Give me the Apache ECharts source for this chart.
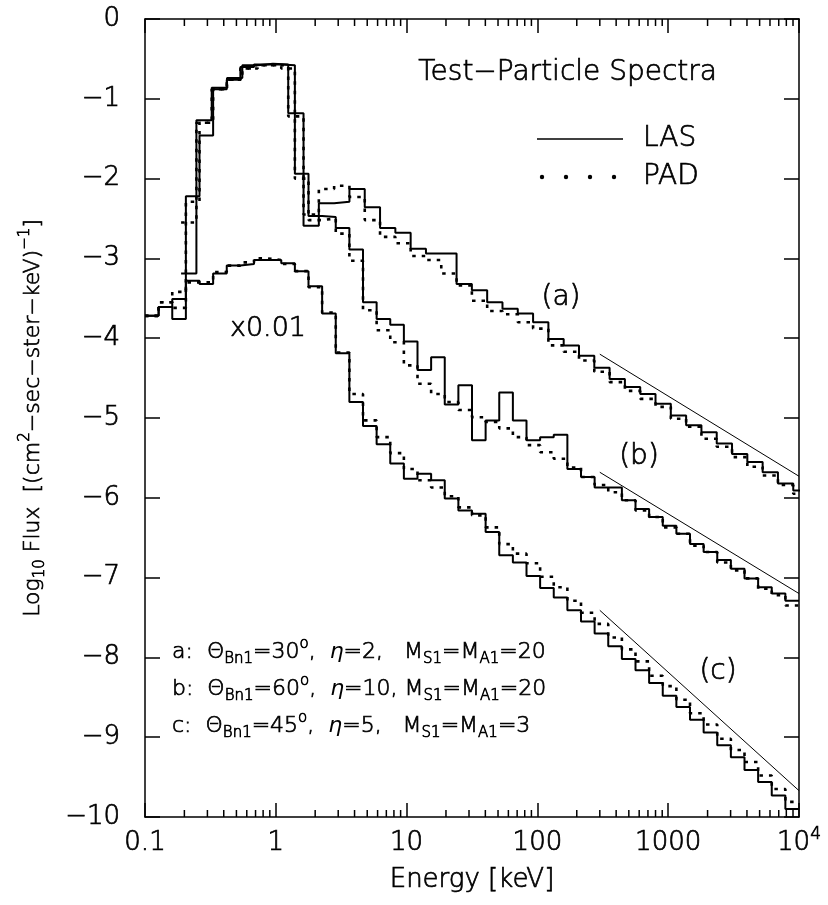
<!DOCTYPE html>
<html>
<head>
<meta charset="utf-8">
<script src="https://cdn.jsdelivr.net/npm/echarts@6/dist/echarts.min.js"></script>
<style>
html,body{margin:0;padding:0;background:#ffffff;}
#chart{width:828px;height:905px;}
</style>
</head>
<body>
<div id="chart"></div>
<script>
// ---------- histogram binning (log10 of energy in keV) ----------
const binStartBC = -1;        // (b) and (c): 48 bins over 0.1 .. 1e4 keV
const binWidthBC = 5 / 48;
const binStartA = -1.075;     // (a): its own, slightly wider bins
const binWidthA = 0.117;

// ---------- series values: log10 flux per bin ----------
// (a) theta=30, eta=2, M=20  (first three bins empty)
const aLAS = [null, null, null, -3.19, -1.27, -0.86, -0.74, -0.58, -0.56, -0.57,
  -1.18, -2.59, -2.31, -2.29, -2.13, -2.36, -2.62, -2.68, -2.88, -2.94,
  -2.94, -3.32, -3.40, -3.55, -3.63, -3.69, -3.80, -4.01, -4.09, -4.22,
  -4.37, -4.51, -4.61, -4.70, -4.82, -4.97, -5.09, -5.18, -5.32, -5.45,
  -5.55, -5.68, -5.82, -5.91];
const aPAD = [null, null, null, -2.55, -1.30, -0.88, -0.76, -0.62, -0.58, -0.58,
  -1.22, -2.45, -2.13, -2.09, -2.23, -2.52, -2.73, -2.81, -2.97, -3.02,
  -3.19, -3.34, -3.53, -3.66, -3.70, -3.80, -3.88, -4.09, -4.17, -4.28,
  -4.42, -4.55, -4.66, -4.76, -4.86, -5.01, -5.11, -5.26, -5.36, -5.49,
  -5.61, -5.72, -5.84, -5.95];
// (b) theta=60, eta=10, M=20
const bLAS = [-3.72, -3.61, -3.76, -2.22, -1.46, -0.88, -0.76, -0.60, -0.57, -0.57,
  -0.58, -1.94, -2.47, -2.48, -2.62, -2.89, -3.55, -3.76, -3.83, -4.04,
  -4.40, -4.24, -4.83, -4.59, -5.28, -5.03, -4.68, -5.03, -5.28, -5.24,
  -5.21, -5.64, -5.74, -5.87, -5.87, -6.03, -6.14, -6.24, -6.35, -6.45,
  -6.58, -6.68, -6.78, -6.89, -7.01, -7.12, -7.20, -7.29];
const bPAD = [-3.72, -3.55, -3.62, -2.29, -1.30, -0.88, -0.76, -0.62, -0.58, -0.58,
  -0.62, -2.00, -2.52, -2.50, -2.69, -3.03, -3.65, -3.90, -4.05, -4.34,
  -4.57, -4.70, -4.80, -4.90, -4.99, -5.05, -5.13, -5.24, -5.34, -5.43,
  -5.51, -5.62, -5.74, -5.84, -5.93, -6.03, -6.16, -6.24, -6.37, -6.45,
  -6.60, -6.68, -6.81, -6.91, -7.01, -7.14, -7.22, -7.35];
// (c) theta=45, eta=5, M=3  (shown x0.01)
const cLAS = [-3.72, -3.61, -3.51, -3.28, -3.32, -3.19, -3.09, -3.07, -3.02, -3.02,
  -3.06, -3.16, -3.35, -3.69, -4.19, -4.80, -5.10, -5.33, -5.57, -5.76,
  -5.70, -5.78, -6.01, -6.16, -6.20, -6.43, -6.72, -6.81, -6.98, -7.13,
  -7.25, -7.41, -7.55, -7.70, -7.86, -8.02, -8.16, -8.32, -8.48, -8.62,
  -8.78, -8.94, -9.10, -9.25, -9.41, -9.56, -9.73, -9.90];
const cPAD = [-3.72, -3.55, -3.42, -3.30, -3.30, -3.17, -3.09, -3.05, -3.00, -3.02,
  -3.07, -3.16, -3.36, -3.68, -4.18, -4.70, -5.03, -5.24, -5.44, -5.64,
  -5.78, -5.87, -5.98, -6.12, -6.22, -6.37, -6.58, -6.70, -6.82, -6.99,
  -7.12, -7.29, -7.44, -7.58, -7.75, -7.90, -8.05, -8.23, -8.36, -8.53,
  -8.70, -8.84, -9.02, -9.16, -9.31, -9.48, -9.65, -9.81];

// power-law reference lines [energy keV, log10 flux]
const powerLawA = [[300, -4.20], [10000, -5.73]];
const powerLawB = [[300, -5.68], [10000, -7.20]];
const powerLawC = [[300, -7.41], [10000, -9.67]];

// ---------- axis tick labels ----------
const xTickLabels = ['{n|0.1}', '{n|1}', '{n|10}', '{n|100}', '{n|1000}', '{n|10}{sup|4}'];
const yTickLabels = ['0', '−1', '−2', '−3', '−4', '−5', '−6', '−7', '−8', '−9', '−10'];
const minorMultipliers = [2, 3, 4, 5, 6, 7, 8, 9];
const decades = [0.1, 1, 10, 100, 1000];

const FONT = "'DejaVu Sans', sans-serif";
const FW = 300;
const BW = 0.7;   // thin outline to darken the light face

function stepData(start, width, vals) {
  const pts = [];
  let last = null;
  vals.forEach((v, i) => {
    if (v === null) return;
    pts.push([Math.pow(10, start + i * width), v]);
    last = v;
  });
  pts.push([Math.pow(10, start + vals.length * width), last]);
  return pts;
}

const minorTicks = [];
decades.forEach(d => minorMultipliers.forEach(m => minorTicks.push([d * m, -10])));

const solid = {color: '#000', width: 2, type: 'solid'};
const dotted = {color: '#000', width: 2.6, type: [3.5, 6], cap: 'butt'};

function histSeries(name, data, style) {
  return {
    name: name, type: 'line', step: 'end', data: data,
    symbol: 'none', showSymbol: false, lineStyle: style,
    xAxisIndex: 0, yAxisIndex: 0, animation: false, silent: true, z: 3
  };
}
function plSeries(data) {
  return {
    type: 'line', data: data, symbol: 'none', showSymbol: false,
    lineStyle: {color: '#000', width: 1}, animation: false, silent: true, z: 2
  };
}
function ts(size, extra) {
  return Object.assign({fontSize: size, fontFamily: FONT, fontWeight: FW, color: '#000',
    textBorderColor: '#000', textBorderWidth: BW}, extra || {});
}

const chart = echarts.init(document.getElementById('chart'), null, {renderer: 'canvas'});

const axisCommon = {
  axisLine: {show: true, onZero: false, lineStyle: {color: '#000', width: 1.5}},
  splitLine: {show: false}
};

const option = {
  backgroundColor: '#ffffff',
  animation: false,
  textStyle: {fontFamily: FONT, fontWeight: FW, color: '#000'},
  grid: {left: 145, top: 19, width: 654, height: 798, containLabel: false},
  xAxis: [
    Object.assign({
      type: 'log', logBase: 10, min: 0.1, max: 10000, position: 'bottom',
      axisTick: {show: true, inside: true, length: 14, lineStyle: {color: '#000', width: 1.5}},
      axisLabel: Object.assign(ts(26), {
        show: true, margin: 9,
        formatter: function (v) {
          const i = Math.round(Math.log10(v)) + 1;
          return xTickLabels[i] || '';
        },
        rich: {
          n: ts(26, {lineHeight: 34}),
          sup: ts(17, {lineHeight: 17, verticalAlign: 'top'})
        }
      }),
      name: 'Energy [keV]', nameLocation: 'middle', nameGap: 50,
      nameTextStyle: ts(26)
    }, axisCommon),
    Object.assign({
      type: 'log', logBase: 10, min: 0.1, max: 10000, position: 'top',
      axisTick: {show: true, inside: true, length: 14, lineStyle: {color: '#000', width: 1.5}},
      axisLabel: {show: false}
    }, axisCommon)
  ],
  yAxis: [
    Object.assign({
      type: 'value', min: -10, max: 0, interval: 1, position: 'left',
      axisTick: {show: true, inside: true, length: 15, lineStyle: {color: '#000', width: 1.5}},
      axisLabel: Object.assign(ts(26), {
        show: true, margin: 25,
        formatter: function (v) { return yTickLabels[Math.round(-v)]; }
      }),
      name: '{n|Log}{sub|10}{n| Flux  [(cm}{sup|2}{n|−sec−ster−keV)}{sup|−1}{n|]}',
      nameLocation: 'middle', nameRotate: 90, nameGap: 97,
      nameTextStyle: ts(22, {
        rich: {
          n: ts(22, {lineHeight: 30}),
          sub: ts(15, {lineHeight: 15, verticalAlign: 'bottom'}),
          sup: ts(15, {lineHeight: 15, verticalAlign: 'top'})
        }
      })
    }, axisCommon),
    Object.assign({
      type: 'value', min: -10, max: 0, interval: 1, position: 'right',
      axisTick: {show: true, inside: true, length: 15, lineStyle: {color: '#000', width: 1.5}},
      axisLabel: {show: false}
    }, axisCommon)
  ],
  series: [
    histSeries('LAS a', stepData(binStartA, binWidthA, aLAS), solid),
    histSeries('PAD a', stepData(binStartA, binWidthA, aPAD), dotted),
    histSeries('LAS b', stepData(binStartBC, binWidthBC, bLAS), solid),
    histSeries('PAD b', stepData(binStartBC, binWidthBC, bPAD), dotted),
    histSeries('LAS c', stepData(binStartBC, binWidthBC, cLAS), solid),
    histSeries('PAD c', stepData(binStartBC, binWidthBC, cPAD), dotted),
    plSeries(powerLawA),
    plSeries(powerLawB),
    plSeries(powerLawC),
    {
      type: 'custom', data: minorTicks, encode: {x: 0, y: 1}, clip: false, silent: true,
      animation: false, z: 4,
      renderItem: function (params, api) {
        const e = api.value(0);
        const pb = api.coord([e, -10]);
        const pt = api.coord([e, 0]);
        return {
          type: 'group', children: [
            {type: 'line', shape: {x1: pb[0], y1: pb[1], x2: pb[0], y2: pb[1] - 7}, style: {stroke: '#000', lineWidth: 1.5}},
            {type: 'line', shape: {x1: pt[0], y1: pt[1], x2: pt[0], y2: pt[1] + 7}, style: {stroke: '#000', lineWidth: 1.5}}
          ]
        };
      }
    }
  ]
};

chart.setOption(option);

// ---------- text annotations ----------
function rs(size, extra) {
  return Object.assign({fontSize: size, fontFamily: FONT, fontWeight: FW, fill: '#000',
    stroke: '#000', lineWidth: BW}, extra || {});
}
function txt(x, y, text, size, align, rich) {
  const st = rs(size, {text: text, align: align || 'left', verticalAlign: 'middle'});
  if (rich) st.rich = rich;
  return {type: 'text', x: x, y: y, style: st, silent: true, z: 10};
}
const annRich = {
  n: rs(22, {lineHeight: 30}),
  eta: rs(22, {lineHeight: 30, fontStyle: 'italic', lineWidth: 0}),
  sub: rs(15, {lineHeight: 15, verticalAlign: 'bottom'}),
  sup: rs(15, {lineHeight: 15, verticalAlign: 'top'})
};
const annLines = [
  '{n|a:  Θ}{sub|Bn1}{n|=30}{sup|o}{n|,  }{eta|η}{n|=2,   M}{sub|S1}{n|=M}{sub|A1}{n|=20}',
  '{n|b:  Θ}{sub|Bn1}{n|=60}{sup|o}{n|,  }{eta|η}{n|=10, M}{sub|S1}{n|=M}{sub|A1}{n|=20}',
  '{n|c:  Θ}{sub|Bn1}{n|=45}{sup|o}{n|,  }{eta|η}{n|=5,   M}{sub|S1}{n|=M}{sub|A1}{n|=3}'
];

const g = [
  txt(717, 73, 'Test−Particle Spectra', 28, 'right'),
  {type: 'line', shape: {x1: 537, y1: 139, x2: 623, y2: 139}, style: {stroke: '#000', lineWidth: 1.5}, silent: true},
  txt(643, 139, 'LAS', 28, 'left'),
  txt(643, 177, 'PAD', 28, 'left'),
  txt(561, 298, '(a)', 28, 'center'),
  txt(639, 457, '(b)', 28, 'center'),
  txt(718, 672, '(c)', 28, 'center'),
  txt(268, 329, 'x0.01', 27, 'center'),
  txt(172, 652, annLines[0], 22, 'left', annRich),
  txt(172, 689, annLines[1], 22, 'left', annRich),
  txt(172, 726, annLines[2], 22, 'left', annRich)
];
[542, 566, 590, 614].forEach(x => g.push({type: 'circle', shape: {cx: x, cy: 177, r: 2.2}, style: {fill: '#000'}, silent: true}));
chart.setOption({graphic: g});
</script>
</body>
</html>
